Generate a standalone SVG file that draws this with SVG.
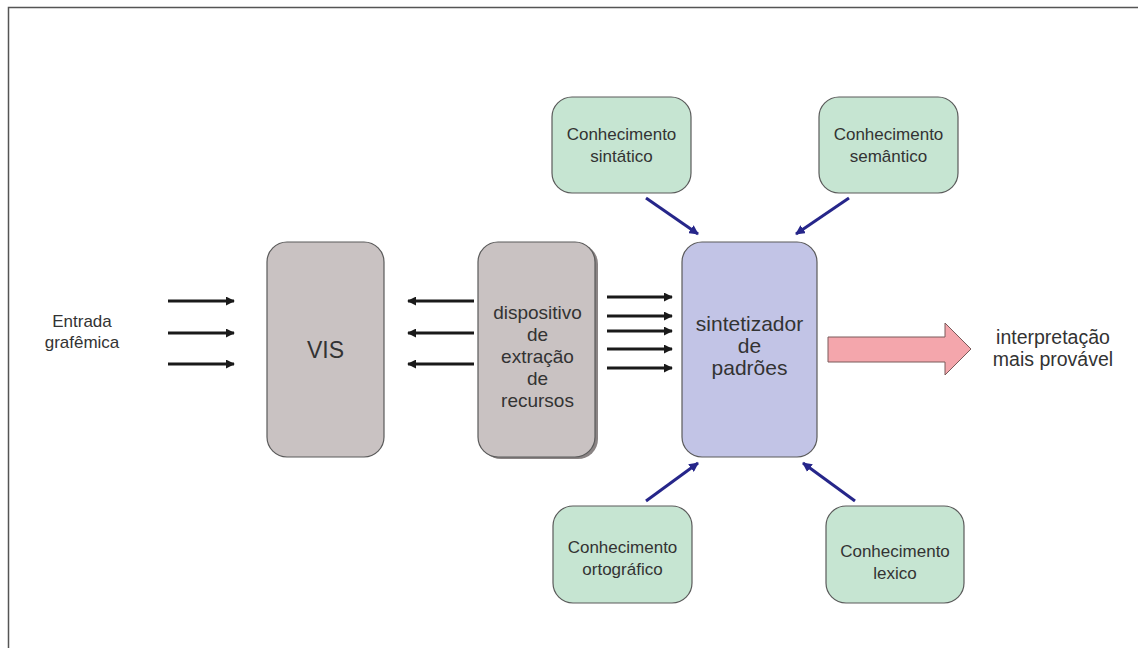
<svg xmlns="http://www.w3.org/2000/svg" width="1138" height="648" viewBox="0 0 1138 648">
<defs>
<style>
.t{font-family:"Liberation Sans",Arial,sans-serif;fill:#333;text-anchor:middle}
.gray{fill:#c9c2c2;stroke:#5a5a5a;stroke-width:1.2}
.blue{fill:#c2c4e6;stroke:#5a5a5a;stroke-width:1.2}
.green{fill:#c6e5d2;stroke:#5a5a5a;stroke-width:1.2}
.blk{stroke:#1a1a1a;stroke-width:3;fill:none}
.nav{stroke:#26268a;stroke-width:3;fill:none}
</style>
<marker id="ah" viewBox="0 0 10 10" refX="9" refY="5" markerWidth="3" markerHeight="3" orient="auto" markerUnits="strokeWidth"><path d="M0,0 L10,5 L0,10 Z" fill="#1a1a1a"/></marker>
<marker id="ab" viewBox="0 0 10 10" refX="9" refY="5" markerWidth="3.2" markerHeight="3.2" orient="auto" markerUnits="strokeWidth"><path d="M0,0 L10,5 L0,10 Z" fill="#26268a"/></marker>
</defs>
<rect width="1138" height="648" fill="#fff"/>
<path d="M8.5,648 V7.5 H1138" fill="none" stroke="#555" stroke-width="1.5"/>

<g id="entrada"><text class="t" font-size="17"><tspan x="82" y="327">Entrada</tspan><tspan x="82" y="348">grafêmica</tspan></text></g>

<g id="vis">
<rect x="267" y="242" width="117" height="215" rx="20" class="gray"/>
<text class="t" x="325.5" y="358" font-size="23">VIS</text>
</g>

<g id="dispositivo">
<rect x="481" y="244" width="117" height="215" rx="20" fill="#8a8484"/>
<rect x="478" y="242" width="117" height="215" rx="20" class="gray"/>
<text class="t" font-size="19"><tspan x="537.5" y="319">dispositivo</tspan><tspan x="537.5" y="341">de</tspan><tspan x="537.5" y="363">extração</tspan><tspan x="537.5" y="385">de</tspan><tspan x="537.5" y="407">recursos</tspan></text>
</g>

<g id="sintetizador">
<rect x="682" y="242" width="135" height="215" rx="20" class="blue"/>
<text class="t" font-size="21"><tspan x="749.5" y="331">sintetizador</tspan><tspan x="749.5" y="353">de</tspan><tspan x="749.5" y="375">padrões</tspan></text>
</g>

<g id="sintatico">
<rect x="552" y="97" width="139" height="96" rx="20" class="green"/>
<text class="t" font-size="17"><tspan x="621.5" y="140">Conhecimento</tspan><tspan x="621.5" y="162">sintático</tspan></text>
</g>

<g id="semantico">
<rect x="819" y="97" width="139" height="96" rx="20" class="green"/>
<text class="t" font-size="17"><tspan x="888.5" y="140">Conhecimento</tspan><tspan x="888.5" y="162">semântico</tspan></text>
</g>

<g id="ortografico">
<rect x="553" y="506" width="139" height="97" rx="20" class="green"/>
<text class="t" font-size="17"><tspan x="622.5" y="553">Conhecimento</tspan><tspan x="622.5" y="575">ortográfico</tspan></text>
</g>

<g id="lexico">
<rect x="826" y="506" width="138" height="97" rx="20" class="green"/>
<text class="t" font-size="17"><tspan x="895" y="557">Conhecimento</tspan><tspan x="895" y="579">lexico</tspan></text>
</g>

<g id="interpretacao"><text class="t" font-size="19.5"><tspan x="1053" y="344">interpretação</tspan><tspan x="1053" y="366">mais provável</tspan></text></g>

<g id="connectors">
<line x1="168" y1="301" x2="234" y2="301" class="blk" marker-end="url(#ah)"/>
<line x1="168" y1="333" x2="234" y2="333" class="blk" marker-end="url(#ah)"/>
<line x1="168" y1="364" x2="234" y2="364" class="blk" marker-end="url(#ah)"/>
<line x1="474" y1="301" x2="408" y2="301" class="blk" marker-end="url(#ah)"/>
<line x1="474" y1="333" x2="408" y2="333" class="blk" marker-end="url(#ah)"/>
<line x1="474" y1="364" x2="408" y2="364" class="blk" marker-end="url(#ah)"/>
<line x1="607" y1="297" x2="672" y2="297" class="blk" marker-end="url(#ah)"/>
<line x1="607" y1="316" x2="672" y2="316" class="blk" marker-end="url(#ah)"/>
<line x1="607" y1="331" x2="672" y2="331" class="blk" marker-end="url(#ah)"/>
<line x1="607" y1="349" x2="672" y2="349" class="blk" marker-end="url(#ah)"/>
<line x1="607" y1="368" x2="672" y2="368" class="blk" marker-end="url(#ah)"/>
<line x1="646" y1="198" x2="698" y2="234" class="nav" marker-end="url(#ab)"/>
<line x1="849" y1="198" x2="796" y2="234" class="nav" marker-end="url(#ab)"/>
<line x1="646" y1="501" x2="698" y2="463" class="nav" marker-end="url(#ab)"/>
<line x1="855" y1="501" x2="803" y2="463" class="nav" marker-end="url(#ab)"/>
<path d="M828,337 H945 V323 L971,349 L945,375 V362 H828 Z" fill="#f4a6ac" stroke="#7a5a5a" stroke-width="1"/>
</g>
</svg>
